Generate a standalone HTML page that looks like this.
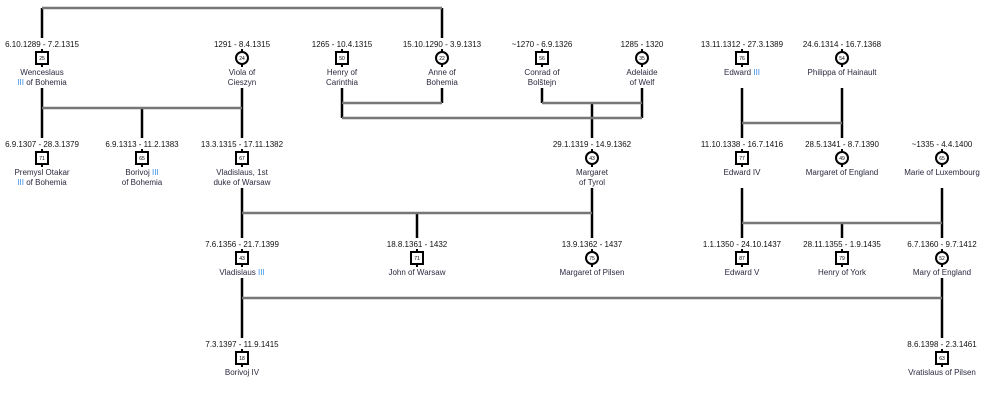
<!DOCTYPE html>
<html><head><meta charset="utf-8"><style>
html,body{margin:0;padding:0;background:#fff;}
svg{display:block;}
text{font-family:"Liberation Sans",Arial,sans-serif;font-size:8px;text-anchor:middle;}
.d{fill:#111;}
.n{fill:#2a2a40;}
.b{fill:#3a8ee6;}
.k{stroke:#000;stroke-width:2.5;fill:none;}
.g{stroke:#777;stroke-width:2.5;fill:none;}
.ic{fill:#fff;stroke:#000;stroke-width:2;}
.num{font-size:5px;fill:#000;}
.st{stroke:#000;stroke-width:2;}
</style></head><body>
<svg width="1000" height="400" viewBox="0 0 1000 400" xmlns="http://www.w3.org/2000/svg">
<g class="k">
<line x1="42" y1="8" x2="42" y2="38"/><line x1="442" y1="8" x2="442" y2="38"/>
<line x1="42" y1="88" x2="42" y2="138"/><line x1="242" y1="88" x2="242" y2="138"/>
<line x1="142" y1="108" x2="142" y2="138"/>
<line x1="342" y1="88" x2="342" y2="118"/><line x1="442" y1="88" x2="442" y2="103"/>
<line x1="542" y1="88" x2="542" y2="103"/><line x1="642" y1="88" x2="642" y2="118"/>
<line x1="592" y1="103" x2="592" y2="138"/>
<line x1="742" y1="88" x2="742" y2="138"/><line x1="842" y1="88" x2="842" y2="138"/>
<line x1="242" y1="188" x2="242" y2="238"/><line x1="592" y1="188" x2="592" y2="238"/>
<line x1="417" y1="213" x2="417" y2="238"/>
<line x1="742" y1="188" x2="742" y2="238"/><line x1="942" y1="188" x2="942" y2="238"/>
<line x1="842" y1="223" x2="842" y2="238"/>
<line x1="242" y1="278" x2="242" y2="338"/><line x1="942" y1="278" x2="942" y2="338"/>
</g>
<g class="g">
<line x1="42" y1="8" x2="442" y2="8"/>
<line x1="42" y1="108" x2="242" y2="108"/>
<line x1="342" y1="103" x2="442" y2="103"/>
<line x1="542" y1="103" x2="642" y2="103"/>
<line x1="342" y1="118" x2="642" y2="118"/>
<line x1="742" y1="123" x2="842" y2="123"/>
<line x1="242" y1="213" x2="592" y2="213"/>
<line x1="742" y1="223" x2="942" y2="223"/>
<line x1="242" y1="298" x2="942" y2="298"/>
</g>
<!-- stubs -->
<g class="st">
<line x1="42" y1="49" x2="42" y2="67"/><line x1="242" y1="49" x2="242" y2="67"/><line x1="342" y1="49" x2="342" y2="67"/><line x1="442" y1="49" x2="442" y2="67"/><line x1="542" y1="49" x2="542" y2="67"/><line x1="642" y1="49" x2="642" y2="67"/><line x1="742" y1="49" x2="742" y2="67"/><line x1="842" y1="49" x2="842" y2="67"/>
<line x1="42" y1="149" x2="42" y2="167"/><line x1="142" y1="149" x2="142" y2="167"/><line x1="242" y1="149" x2="242" y2="167"/><line x1="592" y1="149" x2="592" y2="167"/><line x1="742" y1="149" x2="742" y2="167"/><line x1="842" y1="149" x2="842" y2="167"/><line x1="942" y1="149" x2="942" y2="167"/>
<line x1="242" y1="249" x2="242" y2="267"/><line x1="417" y1="249" x2="417" y2="267"/><line x1="592" y1="249" x2="592" y2="267"/><line x1="742" y1="249" x2="742" y2="267"/><line x1="842" y1="249" x2="842" y2="267"/><line x1="942" y1="249" x2="942" y2="267"/>
<line x1="242" y1="349" x2="242" y2="367"/><line x1="942" y1="349" x2="942" y2="367"/>
</g>
<g>
<rect class="ic" x="36" y="52" width="12" height="12"/><text class="num" x="42" y="60">25</text>
<circle class="ic" cx="242" cy="58" r="6"/><text class="num" x="242" y="60">24</text>
<rect class="ic" x="336" y="52" width="12" height="12"/><text class="num" x="342" y="60">50</text>
<circle class="ic" cx="442" cy="58" r="6"/><text class="num" x="442" y="60">22</text>
<rect class="ic" x="536" y="52" width="12" height="12"/><text class="num" x="542" y="60">56</text>
<circle class="ic" cx="642" cy="58" r="6"/><text class="num" x="642" y="60">35</text>
<rect class="ic" x="736" y="52" width="12" height="12"/><text class="num" x="742" y="60">76</text>
<circle class="ic" cx="842" cy="58" r="6"/><text class="num" x="842" y="60">54</text>

<rect class="ic" x="36" y="152" width="12" height="12"/><text class="num" x="42" y="160">71</text>
<rect class="ic" x="136" y="152" width="12" height="12"/><text class="num" x="142" y="160">65</text>
<rect class="ic" x="236" y="152" width="12" height="12"/><text class="num" x="242" y="160">67</text>
<circle class="ic" cx="592" cy="158" r="6"/><text class="num" x="592" y="160">43</text>
<rect class="ic" x="736" y="152" width="12" height="12"/><text class="num" x="742" y="160">77</text>
<circle class="ic" cx="842" cy="158" r="6"/><text class="num" x="842" y="160">49</text>
<circle class="ic" cx="942" cy="158" r="6"/><text class="num" x="942" y="160">65</text>

<rect class="ic" x="236" y="252" width="12" height="12"/><text class="num" x="242" y="260">43</text>
<rect class="ic" x="411" y="252" width="12" height="12"/><text class="num" x="417" y="260">71</text>
<circle class="ic" cx="592" cy="258" r="6"/><text class="num" x="592" y="260">75</text>
<rect class="ic" x="736" y="252" width="12" height="12"/><text class="num" x="742" y="260">87</text>
<rect class="ic" x="836" y="252" width="12" height="12"/><text class="num" x="842" y="260">79</text>
<circle class="ic" cx="942" cy="258" r="6"/><text class="num" x="942" y="260">52</text>

<rect class="ic" x="236" y="352" width="12" height="12"/><text class="num" x="242" y="360">18</text>
<rect class="ic" x="936" y="352" width="12" height="12"/><text class="num" x="942" y="360">63</text>
</g>
<g class="d">
<text x="42" y="47">6.10.1289 - 7.2.1315</text>
<text x="242" y="47">1291 - 8.4.1315</text>
<text x="342" y="47">1265 - 10.4.1315</text>
<text x="442" y="47">15.10.1290 - 3.9.1313</text>
<text x="542" y="47">~1270 - 6.9.1326</text>
<text x="642" y="47">1285 - 1320</text>
<text x="742" y="47">13.11.1312 - 27.3.1389</text>
<text x="842" y="47">24.6.1314 - 16.7.1368</text>
<text x="42" y="147">6.9.1307 - 28.3.1379</text>
<text x="142" y="147">6.9.1313 - 11.2.1383</text>
<text x="242" y="147">13.3.1315 - 17.11.1382</text>
<text x="592" y="147">29.1.1319 - 14.9.1362</text>
<text x="742" y="147">11.10.1338 - 16.7.1416</text>
<text x="842" y="147">28.5.1341 - 8.7.1390</text>
<text x="942" y="147">~1335 - 4.4.1400</text>
<text x="242" y="247">7.6.1356 - 21.7.1399</text>
<text x="417" y="247">18.8.1361 - 1432</text>
<text x="592" y="247">13.9.1362 - 1437</text>
<text x="742" y="247">1.1.1350 - 24.10.1437</text>
<text x="842" y="247">28.11.1355 - 1.9.1435</text>
<text x="942" y="247">6.7.1360 - 9.7.1412</text>
<text x="242" y="347">7.3.1397 - 11.9.1415</text>
<text x="942" y="347">8.6.1398 - 2.3.1461</text>
</g>
<g class="n">
<text x="42" y="75">Wenceslaus</text>
<text x="42" y="85"><tspan class="b">III</tspan> of Bohemia</text>
<text x="242" y="75">Viola of</text><text x="242" y="85">Cieszyn</text>
<text x="342" y="75">Henry of</text><text x="342" y="85">Carinthia</text>
<text x="442" y="75">Anne of</text><text x="442" y="85">Bohemia</text>
<text x="542" y="75">Conrad of</text><text x="542" y="85">Bolštejn</text>
<text x="642" y="75">Adelaide</text><text x="642" y="85">of Welf</text>
<text x="742" y="75">Edward <tspan class="b">III</tspan></text>
<text x="842" y="75">Philippa of Hainault</text>
<text x="42" y="175">Premysl Otakar</text>
<text x="42" y="185"><tspan class="b">III</tspan> of Bohemia</text>
<text x="142" y="175">Borivoj <tspan class="b">III</tspan></text><text x="142" y="185">of Bohemia</text>
<text x="242" y="175">Vladislaus, 1st</text><text x="242" y="185">duke of Warsaw</text>
<text x="592" y="175">Margaret</text><text x="592" y="185">of Tyrol</text>
<text x="742" y="175">Edward IV</text>
<text x="842" y="175">Margaret of England</text>
<text x="942" y="175">Marie of Luxembourg</text>
<text x="242" y="275">Vladislaus <tspan class="b">III</tspan></text>
<text x="417" y="275">John of Warsaw</text>
<text x="592" y="275">Margaret of Pilsen</text>
<text x="742" y="275">Edward V</text>
<text x="842" y="275">Henry of York</text>
<text x="942" y="275">Mary of England</text>
<text x="242" y="375">Borivoj IV</text>
<text x="942" y="375">Vratislaus of Pilsen</text>
</g>
</svg>
</body></html>
